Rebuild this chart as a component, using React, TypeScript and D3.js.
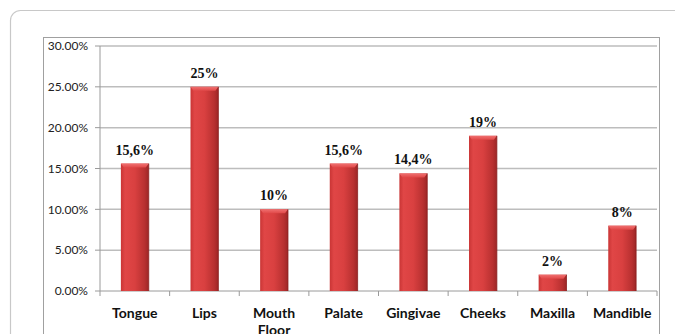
import React from "react";
import * as d3 from "d3";

const categories = ["Tongue", "Lips", "Mouth Floor", "Palate", "Gingivae", "Cheeks", "Maxilla", "Mandible"];
const values = [15.6, 25, 10, 15.6, 14.4, 19, 2, 8];
const valueLabels = ["15,6%", "25%", "10%", "15,6%", "14,4%", "19%", "2%", "8%"];
const yTicks = [0, 5, 10, 15, 20, 25, 30];

const W = 675;
const H = 334;
const left = 100;
const right = 657;
const top = 46;
const bottom = 291;

export default function App() {
  const x = d3.scaleBand<string>().domain(categories).range([left, right]).paddingInner(0.6).paddingOuter(0.3);
  const xb = d3.scaleBand<string>().domain(categories).range([left, right]);
  const y = d3.scaleLinear().domain([0, 30]).range([bottom, top]);
  const bw = x.bandwidth();

  return (
    <svg width={W} height={H} style={{ position: "absolute", left: 0, top: 0, background: "#fff" }}>
      <defs>
        <linearGradient id="barG" x1="0" x2="1" y1="0" y2="0">
          <stop offset="0" stopColor="#c93535" />
          <stop offset="0.15" stopColor="#e04646" />
          <stop offset="0.5" stopColor="#d94040" />
          <stop offset="0.85" stopColor="#b83030" />
          <stop offset="1" stopColor="#9c2626" />
        </linearGradient>
        <linearGradient id="topG" x1="0" x2="0" y1="0" y2="1">
          <stop offset="0" stopColor="#f07070" />
          <stop offset="1" stopColor="#e04848" />
        </linearGradient>
      </defs>
      <rect x={10.5} y={10.5} width={720} height={400} rx={10} fill="#fff" stroke="#c8c8c8" strokeWidth={1.2} />
      <rect x={43.5} y={37.5} width={616} height={400} fill="#fff" stroke="#a0a0a0" strokeWidth={1} />
      {yTicks.map((t) => (
        <g key={t}>
          {t > 0 && <line x1={left} x2={right} y1={y(t)} y2={y(t)} stroke="#bdbdbd" strokeWidth={1.5} />}
          <line x1={left - 5} x2={left} y1={y(t)} y2={y(t)} stroke="#9a9a9a" strokeWidth={1} />
          <text x={88} y={y(t)} dy="0.35em" textAnchor="end" fontFamily="Lato, 'Open Sans', sans-serif" fontSize={12} fill="#222">
            {t.toFixed(2) + "%"}
          </text>
        </g>
      ))}
      <line x1={left} x2={left} y1={top} y2={bottom} stroke="#9a9a9a" strokeWidth={1} />
      <line x1={left} x2={right} y1={bottom} y2={bottom} stroke="#9a9a9a" strokeWidth={1} />
      {categories.map((c) => (
        <line key={"t" + c} x1={(xb(c) as number) + xb.bandwidth()} x2={(xb(c) as number) + xb.bandwidth()} y1={bottom} y2={bottom + 5} stroke="#9a9a9a" />
      ))}
      <line x1={left} x2={left} y1={bottom} y2={bottom + 5} stroke="#9a9a9a" />
      {categories.map((c, i) => {
        const bx = x(c) as number;
        const by = y(values[i]);
        const bh = bottom - by;
        const bev = Math.min(4, bh / 2);
        return (
          <g key={c}>
            <rect x={bx} y={by} width={bw} height={bh} fill="url(#barG)" />
            <polygon points={`${bx},${by} ${bx + bw},${by} ${bx + bw - 3},${by + bev} ${bx + 3},${by + bev}`} fill="url(#topG)" />
            <line x1={bx + bw} x2={bx + bw} y1={by} y2={bottom} stroke="#8a2020" strokeWidth={0.8} />
            <text x={bx + bw / 2} y={by - 9} textAnchor="middle" fontFamily="'Liberation Serif', 'Times New Roman', serif" fontWeight="bold" fontSize={14} fill="#111">
              {valueLabels[i]}
            </text>
          </g>
        );
      })}
      {categories.map((c) => {
        const cx = (xb(c) as number) + xb.bandwidth() / 2;
        const words = c === "Mouth Floor" ? ["Mouth", "Floor"] : [c];
        return (
          <text key={"l" + c} textAnchor="middle" fontFamily="Lato, 'Open Sans', sans-serif" fontWeight="bold" fontSize={14} fill="#111">
            {words.map((w, k) => (
              <tspan key={k} x={cx} y={318 + k * 17}>{w}</tspan>
            ))}
          </text>
        );
      })}
    </svg>
  );
}
